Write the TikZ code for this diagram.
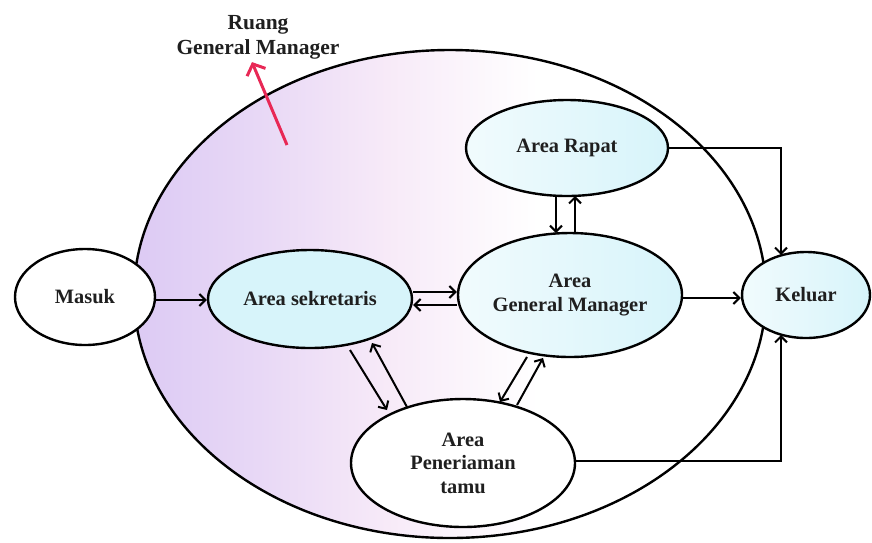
\documentclass[tikz,border=0pt]{standalone}
\usepackage{fontspec}
\setmainfont{Liberation Serif}
\usetikzlibrary{shapes.geometric,arrows.meta,calc}
\definecolor{cyanL}{RGB}{215,244,250}
\definecolor{lav}{RGB}{220,202,244}
\definecolor{pinkL}{RGB}{247,234,248}
\definecolor{redA}{RGB}{232,40,85}
\pgfdeclarehorizontalshading{bigshade}{100bp}{color(0bp)=(lav); color(25bp)=(lav); color(35bp)=(lav!55!pinkL); color(45bp)=(pinkL); color(57bp)=(white); color(100bp)=(white)}
\begin{document}
\begin{tikzpicture}[x=1pt,y=-1pt,
  area/.style={ellipse, draw=black, line width=2.4pt, inner sep=0pt,
    font=\fontsize{20.4}{23.5}\selectfont\bfseries, align=center, text=black!88},
  cyanfill/.style={left color=cyanL!35!white, right color=cyanL},
  arr/.style={line width=2pt, -{Straight Barb[length=6pt,width=12pt,line width=2pt]}}]
\useasboundingbox (0,0) rectangle (872,542);
% big room
\node[ellipse, draw, line width=2.4pt, minimum width=632pt, minimum height=488pt,
  shading=bigshade] (big) at (450,294) {};
% title
\node[font=\fontsize{21.5}{25}\selectfont\bfseries, align=center, text=black!88, inner sep=0pt] (title) at (258,37) {Ruang\\General Manager};
\coordinate (rtail) at (287,145);
\draw[redA, line width=3pt, -{Straight Barb[length=9pt,width=20pt,line width=3pt]}] (rtail) -- ($(title.south)+(-6,3)$);
% nodes
\node[area, fill=white, minimum width=140pt, minimum height=96pt] (masuk) at (85,297) {Masuk};
\node[area, fill=cyanL, minimum width=204pt, minimum height=98pt] (sek) at (310,299) {Area sekretaris};
\node[area, cyanfill, minimum width=224pt, minimum height=124pt] (gm) at (570,295) {Area\\General Manager};
\node[area, cyanfill, minimum width=202pt, minimum height=96pt] (rapat) at (567,148) {Area Rapat};
\node[area, fill=white, minimum width=224pt, minimum height=128pt] (tamu) at (463,463) {Area\\Peneriaman\\tamu};
\node[area, cyanfill, minimum width=128pt, minimum height=86pt] (keluar) at (806,295) {Keluar};
% connectors
\draw[arr] ($(masuk.east)+(0,3)$) -- ($(sek.west)+(0,1)$);
\draw[arr] ($(sek.east)+(0,-7)$) -- ($(gm.west)+(0,-3)$);
\draw[arr] ($(gm.west)+(0,10)$) -- ($(sek.east)+(0,6)$);
\draw[arr] ($(gm.east)+(0,3)$) -- ($(keluar.west)+(0,3)$);
\draw[arr] ($(rapat.center)+(-11,48)$) -- ($(gm.center)+(-14,-62)$);
\draw[arr] ($(gm.center)+(5,-62)$) -- ($(rapat.center)+(8,48)$);
\draw[arr] (rapat.east) -| ($(keluar.center)+(-25,-40)$);
\draw[arr] ($(tamu.east)+(0,-2)$) -| ($(keluar.center)+(-25,40)$);
\draw[arr] ($(sek.center)+(40,51)$) -- ($(tamu.center)+(-76,-53)$);
\draw[arr] ($(tamu.center)+(-56,-56)$) -- ($(sek.center)+(62,44)$);
\draw[arr] ($(gm.center)+(-43,62)$) -- ($(tamu.center)+(37,-61)$);
\draw[arr] ($(tamu.center)+(54,-58)$) -- ($(gm.center)+(-27,63)$);
\end{tikzpicture}
\end{document}
